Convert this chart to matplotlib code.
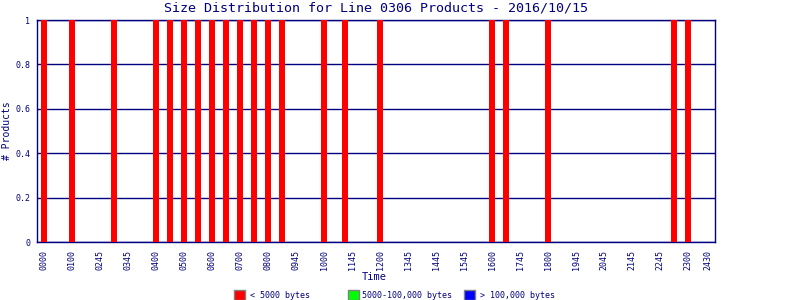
import matplotlib
matplotlib.use('Agg')
import matplotlib.pyplot as plt
from matplotlib.patches import Rectangle

# time of each product slot, in hours from midnight
slot_hours = [0, 1, 2.5, 4, 4.5, 5, 5.5, 6, 6.5, 7, 7.5, 8, 8.5,
              10, 10.75, 12, 16, 16.5, 18, 22.5, 23]
small_counts = [1] * len(slot_hours)      # < 5000 bytes
medium_counts = [0] * len(slot_hours)     # 5000-100,000 bytes
large_counts = [0] * len(slot_hours)      # > 100,000 bytes

tick_hours = list(range(24)) + [23.71]
tick_labels = ['0000', '0100', '0245', '0345', '0400', '0500', '0600', '0700',
               '0800', '0945', '1000', '1145', '1200', '1345', '1445', '1545',
               '1600', '1745', '1800', '1945', '2045', '2145', '2245', '2300',
               '2430']

legend_labels = ['< 5000 bytes', '5000-100,000 bytes', '> 100,000 bytes']
legend_colors = ['#ff0000', '#00ff00', '#0000ff']

navy = '#000080'
plt.rcParams['font.family'] = ['DejaVu Sans Mono']

fig = plt.figure(figsize=(8, 3), dpi=100)
ax = fig.add_axes([37 / 800, 1 - 242 / 300, 678 / 800, 222 / 300])

bar_w = 0.214
ax.bar(slot_hours, small_counts, width=bar_w, color=legend_colors[0], zorder=3)
ax.bar(slot_hours, medium_counts, width=bar_w, bottom=small_counts,
       color=legend_colors[1], zorder=3)
stack2 = [a + b for a, b in zip(small_counts, medium_counts)]
ax.bar(slot_hours, large_counts, width=bar_w, bottom=stack2,
       color=legend_colors[2], zorder=3)

ax.set_xlim(-0.25, 23.96)
ax.set_ylim(0, 1)
ax.set_yticks([0, 0.2, 0.4, 0.6, 0.8, 1])
ax.set_yticklabels(['0', '0.2', '0.4', '0.6', '0.8', '1'])
ax.set_xticks(tick_hours)
ax.set_xticklabels(tick_labels, rotation=90)
ax.tick_params(axis='y', length=0, pad=5, labelsize=6, labelcolor=navy)
ax.tick_params(axis='x', length=0, pad=6, labelsize=6, labelcolor=navy)

ax.grid(axis='y', color=navy, linewidth=1, zorder=1)
for s in ax.spines.values():
    s.set_color(navy)
    s.set_linewidth(1)

ax.set_title('Size Distribution for Line 0306 Products - 2016/10/15',
             color=navy, fontsize=9.6, pad=6)
ax.set_ylabel('# Products', color=navy, fontsize=7)
ax.yaxis.set_label_coords(-25 / 678, 0.5)
fig.text(374 / 800, 1 - 277 / 300, 'Time', color=navy, fontsize=7.5,
         ha='center', va='center')

# legend drawn by hand: fixed width columns like the original
box_x = [234, 348, 464]
text_x = [250, 362, 480]
for bx, tx, lab, col in zip(box_x, text_x, legend_labels, legend_colors):
    fig.patches.append(Rectangle((bx / 800, 1 - 300 / 300), 11 / 800, 10 / 300,
                                 transform=fig.transFigure, facecolor=col,
                                 edgecolor='#808080', linewidth=1))
    fig.text(tx / 800, 1 - 295 / 300, lab, color=navy, fontsize=6,
             ha='left', va='center')

fig.savefig('out.png', dpi=100)
